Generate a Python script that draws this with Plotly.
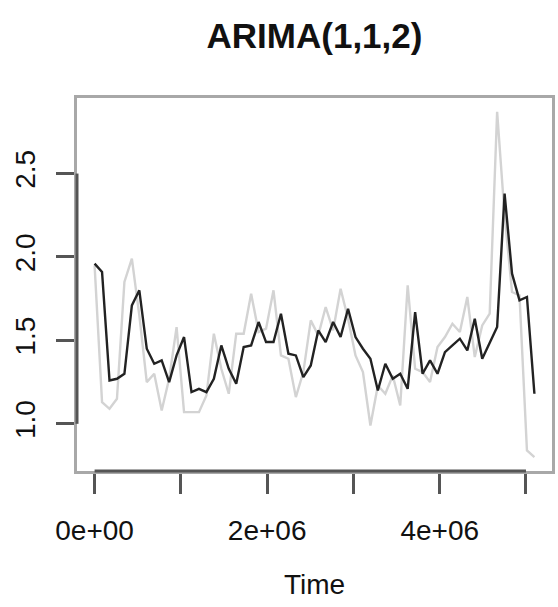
import plotly.graph_objects as go

# Daily observations (time in seconds)
time_step = 86400
observed = [1.95, 1.13, 1.09, 1.15, 1.85, 1.99, 1.65, 1.25, 1.30, 1.08,
            1.27, 1.58, 1.07, 1.07, 1.07, 1.17, 1.54, 1.33, 1.18, 1.54,
            1.54, 1.78, 1.55, 1.57, 1.80, 1.41, 1.39, 1.16, 1.31, 1.62,
            1.53, 1.70, 1.56, 1.81, 1.63, 1.41, 1.31, 0.99, 1.23, 1.18,
            1.29, 1.11, 1.83, 1.33, 1.31, 1.25, 1.46, 1.52, 1.60, 1.55,
            1.76, 1.40, 1.59, 1.66, 2.87, 2.25, 1.79, 1.77, 0.84, 0.80]
fitted = [1.96, 1.91, 1.26, 1.27, 1.30, 1.71, 1.80, 1.45, 1.36, 1.38,
          1.25, 1.41, 1.52, 1.19, 1.21, 1.19, 1.27, 1.47, 1.33, 1.24,
          1.46, 1.47, 1.61, 1.49, 1.49, 1.66, 1.42, 1.41, 1.28, 1.35,
          1.56, 1.49, 1.61, 1.52, 1.69, 1.52, 1.45, 1.39, 1.20, 1.36,
          1.27, 1.30, 1.21, 1.67, 1.30, 1.38, 1.30, 1.43, 1.47, 1.51,
          1.44, 1.63, 1.39, 1.49, 1.58, 2.38, 1.90, 1.74, 1.76, 1.18]
times = [i * time_step for i in range(len(observed))]

x_tickvals = [0, 1e6, 2e6, 3e6, 4e6, 5e6]
x_ticktext = ["0e+00", "", "2e+06", "", "4e+06", ""]
y_tickvals = [1.0, 1.5, 2.0, 2.5]
y_ticktext = ["1.0", "1.5", "2.0", "2.5"]

title_text = "ARIMA(1,1,2)"
xlabel_text = "Time"

FONT = "Liberation Sans, Arial, Helvetica, sans-serif"

xmin, xmax = min(times), max(times)
allv = observed + fitted
ymin, ymax = min(allv), max(allv)
xpad = 0.04 * (xmax - xmin)
ypad = 0.04 * (ymax - ymin)

fig = go.Figure()
fig.add_trace(go.Scatter(x=times, y=observed, mode="lines",
                         line=dict(color="#d3d3d3", width=2.4),
                         showlegend=False, hoverinfo="skip"))
fig.add_trace(go.Scatter(x=times, y=fitted, mode="lines",
                         line=dict(color="#222222", width=2.4),
                         showlegend=False, hoverinfo="skip"))

fig.update_layout(
    template="none",
    width=558, height=607,
    margin=dict(l=77, r=6, t=98, b=136, autoexpand=False),
    paper_bgcolor="white", plot_bgcolor="white",
    font=dict(family=FONT, size=28, color="#111111"),
    title=dict(text="<b>" + title_text + "</b>", x=0.5, xref="paper",
               xanchor="center", y=1 - 36 / 607, yref="container",
               yanchor="middle", font=dict(size=35, family=FONT, color="#111111")),
    xaxis=dict(range=[xmin - xpad, xmax + xpad], showgrid=False, zeroline=False,
               automargin=False,
               showline=True, mirror=True, linecolor="#a8a8a8", linewidth=3,
               tickvals=x_tickvals, ticktext=x_ticktext, ticks="outside",
               ticklen=20, tickwidth=2.5, tickcolor="#555555",
               ticklabelstandoff=12, tickfont=dict(size=28, family=FONT)),
    yaxis=dict(range=[ymin - ypad, ymax + ypad], showgrid=False, zeroline=False,
               automargin=False,
               showline=True, mirror=True, linecolor="#a8a8a8", linewidth=3,
               tickvals=y_tickvals, ticktext=y_ticktext, ticks="outside",
               ticklen=18, tickwidth=2.5, tickcolor="#555555", tickangle=-90,
               ticklabelstandoff=10, tickfont=dict(size=28, family=FONT)),
    annotations=[dict(text=xlabel_text, xref="paper", yref="paper", x=0.5,
                      y=-(584 - 471) / 373, xanchor="center", yanchor="middle",
                      showarrow=False, font=dict(size=28, family=FONT, color="#111111"))],
)

# darker axis segments between first and last ticks (R style)
fig.add_shape(type="line", xref="x", yref="y domain", x0=x_tickvals[0], x1=x_tickvals[-1],
              y0=0, y1=0, line=dict(color="#555555", width=3))
fig.add_shape(type="line", xref="x domain", yref="y", x0=0, x1=0,
              y0=y_tickvals[0], y1=y_tickvals[-1], line=dict(color="#555555", width=3))

fig.write_html("out.html", config={"displayModeBar": False},
               post_script="document.body.style.margin='0';")
